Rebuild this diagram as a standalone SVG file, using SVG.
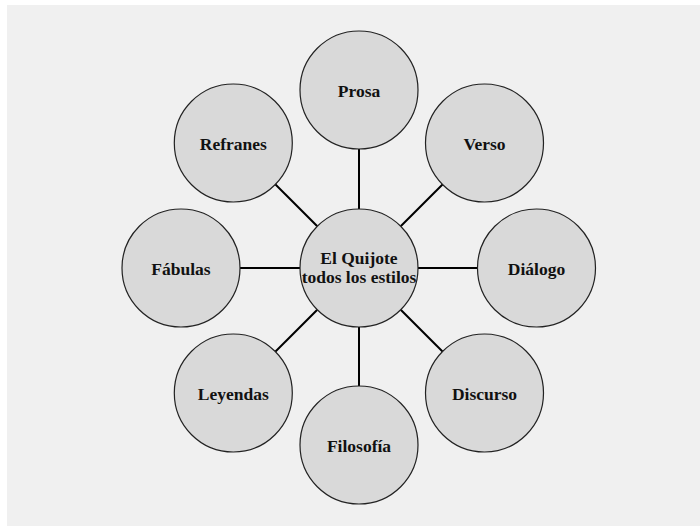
<svg xmlns="http://www.w3.org/2000/svg" width="700" height="526" viewBox="0 0 700 526">
<style>
.n{fill:#d9d9d9;stroke:#222;stroke-width:1.2}
.t{font-family:"Liberation Serif","Times New Roman",serif;font-weight:bold;font-size:17.5px;fill:#111;text-anchor:middle}
.c{stroke:#000;stroke-width:2;fill:none}
</style>
<rect x="0" y="0" width="700" height="526" fill="#ffffff"/>
<rect x="7" y="5" width="693" height="521" fill="#f0f0f0"/>
<g id="connectors">
<line class="c" x1="359" y1="209" x2="359" y2="149"/>
<line class="c" x1="359" y1="327" x2="359" y2="386"/>
<line class="c" x1="300" y1="268" x2="240" y2="268"/>
<line class="c" x1="418" y1="268" x2="477" y2="268"/>
<line class="c" x1="317.3" y1="226.3" x2="275" y2="184"/>
<line class="c" x1="400.7" y1="226.3" x2="443" y2="184"/>
<line class="c" x1="317.3" y1="309.7" x2="275" y2="352"/>
<line class="c" x1="400.7" y1="309.7" x2="443" y2="352"/>
</g>
<g id="center"><circle class="n" cx="359" cy="268" r="59"/><text class="t" x="359" y="264">El Quijote</text><text class="t" x="359" y="283">todos los estilos</text></g>
<g id="prosa"><circle class="n" cx="359" cy="90" r="59"/><text class="t" x="359" y="97">Prosa</text></g>
<g id="verso"><circle class="n" cx="484.5" cy="143" r="59"/><text class="t" x="484.5" y="149.5">Verso</text></g>
<g id="dialogo"><circle class="n" cx="536.5" cy="268" r="59"/><text class="t" x="536.5" y="275">Diálogo</text></g>
<g id="discurso"><circle class="n" cx="484.5" cy="393" r="59"/><text class="t" x="484.5" y="399.5">Discurso</text></g>
<g id="filosofia"><circle class="n" cx="359" cy="445" r="59"/><text class="t" x="359" y="451.5">Filosofía</text></g>
<g id="leyendas"><circle class="n" cx="233.3" cy="393" r="59"/><text class="t" x="233.3" y="399.5">Leyendas</text></g>
<g id="fabulas"><circle class="n" cx="181" cy="268" r="59"/><text class="t" x="181" y="275">Fábulas</text></g>
<g id="refranes"><circle class="n" cx="233.3" cy="143" r="59"/><text class="t" x="233.3" y="149.5">Refranes</text></g>
</svg>
